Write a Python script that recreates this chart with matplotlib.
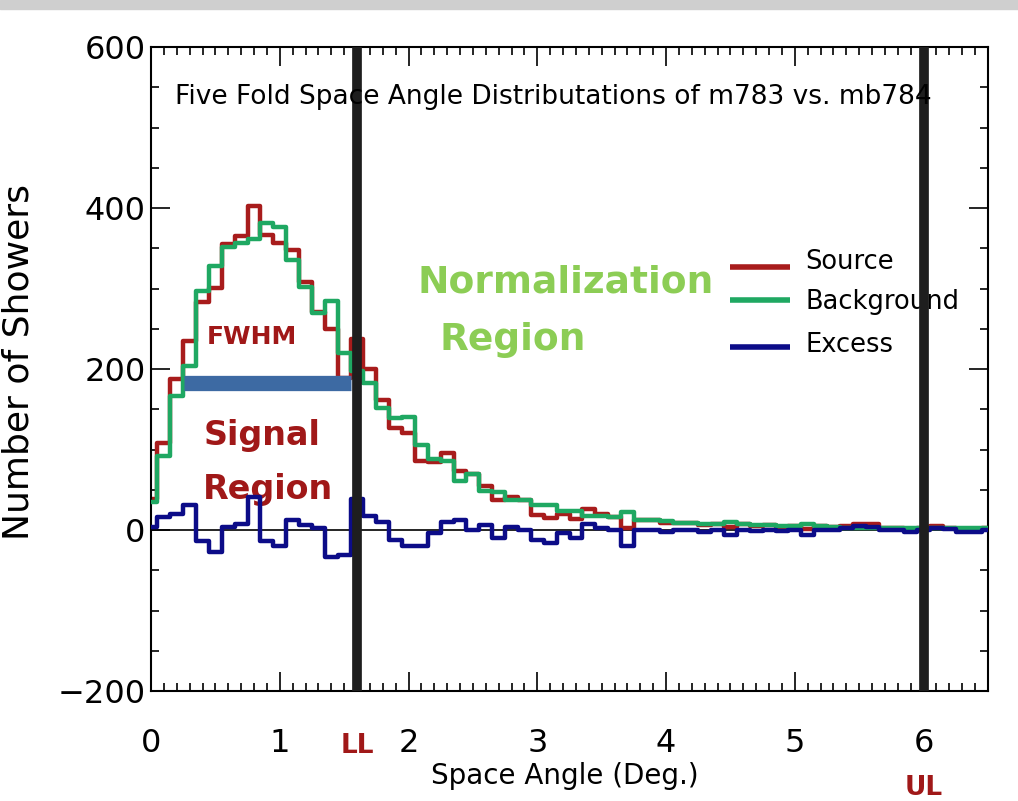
import numpy as np
import matplotlib
matplotlib.use("Agg")
import matplotlib.pyplot as plt
from matplotlib.patches import Rectangle

# ---- data (bin centres every 0.1 deg, IDL-style centred steps) ----
angle = [round(0.1 * k, 1) for k in range(66)]
background = [35, 92, 167, 204, 297, 328, 351, 357, 361, 381,
              377, 336, 302, 269, 284, 220, 198, 183, 151, 139,
              140, 106, 88, 86, 61, 70, 49, 47, 37, 37,
              31, 31, 24, 24, 18, 18, 16, 22, 12, 12,
              11, 9, 9, 8, 8, 10, 8, 6, 6, 5,
              5, 7, 5, 4, 3, 3, 3, 3, 3, 2,
              3, 2, 2, 2, 3, 2]
source = [39, 108, 187, 235, 283, 301, 355, 365, 402, 367,
          357, 348, 308, 271, 250, 189, 237, 200, 161, 127,
          120, 86, 84, 96, 73, 70, 55, 37, 41, 37,
          19, 15, 20, 14, 26, 20, 16, 2, 12, 12,
          9, 9, 9, 6, 8, 4, 8, 5, 6, 4,
          5, 1, 5, 4, 5, 8, 7, 3, 3, 0,
          3, 5, 3, 0, 0, 2]
excess = [4, 16, 20, 31, -14, -27, 4, 8, 41, -14,
          -20, 12, 6, 2, -34, -31, 39, 17, 10, -12,
          -20, -20, -4, 10, 12, 0, 6, -10, 4, 0,
          -12, -16, -4, -10, 8, 2, 0, -20, 0, 0,
          -2, 0, 0, -2, 0, -6, 0, -1, 0, -1,
          0, -6, 0, 0, 2, 5, 4, 0, 0, -2,
          0, 3, 1, -2, -3, 0]
series_names = ["Source", "Background", "Excess"]
cut_positions = [1.6, 6.0]
cut_labels = ["LL", "UL"]
fwhm_range = [0.26, 1.55]
fwhm_level = 182
x_ticks = [0, 1, 2, 3, 4, 5, 6]
y_ticks = [-200, 0, 200, 400, 600]
y_ticklabels = ["\u2212200", "0", "200", "400", "600"]

RED = "#a81c1c"
GREEN = "#1fa862"
BLUE = "#0c0c88"
DARKRED = "#a01818"
LIGHTGREEN = "#8ccd55"

fig = plt.figure(figsize=(10.18, 8.01), dpi=100)
ax = fig.add_axes([151/1018, 1 - 691/801, 837/1018, 644/801])

ax.axhline(0, color="black", lw=1.2, zorder=1)
ax.step(angle, source, where="mid", color=RED, lw=3.2, zorder=2)
ax.step(angle, background, where="mid", color=GREEN, lw=3.2, zorder=3)
ax.step(angle, excess, where="mid", color=BLUE, lw=3.2, zorder=4)

# FWHM bar
ax.plot(fwhm_range, [fwhm_level, fwhm_level], color="#3d6aa3", lw=11,
        solid_capstyle="butt", zorder=5)

# LL / UL cut lines
for xc in cut_positions:
    ax.plot([xc, xc], [-200, 600], color="#1e1e1e", lw=7, zorder=6,
            solid_capstyle="butt", clip_on=False)

ax.set_xlim(0, 6.5)
ax.set_ylim(-200, 600)
ax.set_xticks(x_ticks)
ax.set_xticks(np.arange(0, 6.51, 0.1), minor=True)
ax.set_yticks(y_ticks)
ax.set_yticks(np.arange(-200, 601, 50), minor=True)
ax.set_yticklabels(y_ticklabels)
ax.tick_params(which="both", direction="in", top=True, right=True,
               width=1.2, labelsize=23, color="black")
ax.tick_params(which="major", length=14)
ax.tick_params(which="minor", length=6)
ax.tick_params(axis="y", which="major", pad=4)
ax.tick_params(axis="x", which="major", pad=27)
for sp in ax.spines.values():
    sp.set_linewidth(1.5)

# axis labels placed explicitly
fig.text(565/1018, 1 - 776/801, "Space Angle (Deg.)", fontsize=20,
         ha="center", va="center")
fig.text(36/1018, 1 - 362/801, "Number of Showers", rotation=90, fontsize=26,
         ha="right", va="center")

# title inside
ax.text(0.19, 538, "Five Fold Space Angle Distributations of m783 vs. mb784",
        fontsize=19, ha="left", va="center", zorder=7)

# legend drawn manually
leg_y_line = [327, 286, 227]
leg_y_text = [333, 283, 230]
for name, col, yl, yt in zip(series_names, [RED, GREEN, BLUE], leg_y_line, leg_y_text):
    ax.plot([4.5, 4.96], [yl, yl], color=col, lw=4, solid_capstyle="butt", zorder=7)
    ax.text(5.08, yt, name, fontsize=18.5, ha="left", va="center", zorder=5)

# annotations
ax.text(0.78, 240, "FWHM", color=DARKRED, fontsize=18, fontweight="bold",
        ha="center", va="center", family="Liberation Sans Narrow")
ax.text(0.86, 118, "Signal", color=DARKRED, fontsize=24, fontweight="bold",
        ha="center", va="center")
ax.text(0.91, 50, "Region", color=DARKRED, fontsize=24, fontweight="bold",
        ha="center", va="center")
ax.text(2.07, 308, "Normalization", color=LIGHTGREEN, fontsize=27,
        fontweight="bold", ha="left", va="center")
ax.text(2.24, 236, "Region", color=LIGHTGREEN, fontsize=27,
        fontweight="bold", ha="left", va="center")

# LL / UL labels below axis
trans = ax.get_xaxis_transform()
ax.text(cut_positions[0], -0.085, cut_labels[0], transform=trans, color=DARKRED,
        fontsize=19, fontweight="bold", ha="center", va="center", clip_on=False)
ax.text(cut_positions[1], -0.150, cut_labels[1], transform=trans, color=DARKRED,
        fontsize=19, fontweight="bold", ha="center", va="center", clip_on=False)

# textured grey strip at top of the image
fig.patches.append(Rectangle((0, 1 - 9/801), 1, 9/801, transform=fig.transFigure,
                             color="#cfcfcf", zorder=0))

fig.savefig("out.png", dpi=100)
